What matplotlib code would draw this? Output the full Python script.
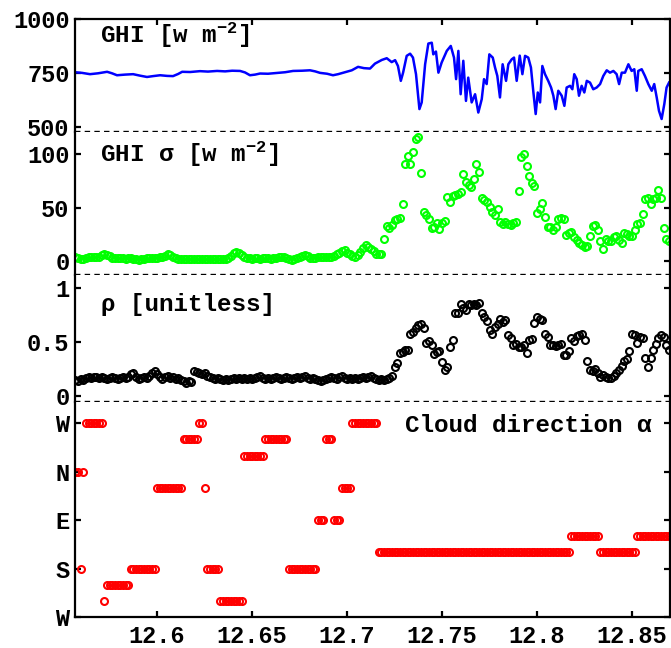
import matplotlib
matplotlib.use('Agg')
import matplotlib.pyplot as plt
import numpy as np

# ---------------- data ----------------
# GHI line (time [h], W m^-2)
ghi_t = [12.5568, 12.5605, 12.5647, 12.5689, 12.5737, 12.5763, 12.5789, 12.5832, 12.5874, 12.5911,
         12.5947, 12.5979, 12.6016, 12.6053, 12.6084, 12.6111, 12.6132, 12.6174, 12.6226, 12.6268,
         12.6316, 12.6358, 12.6395, 12.6437, 12.6463, 12.6489, 12.6516, 12.6542, 12.6584, 12.6632,
         12.6674, 12.6716, 12.6763, 12.6805, 12.6832, 12.6858, 12.6895, 12.6926, 12.6953, 12.6998,
         12.7025, 12.7058, 12.7089, 12.7121, 12.7147, 12.7183, 12.7209, 12.7235, 12.7253, 12.7268,
         12.7283, 12.7295, 12.7314, 12.7332, 12.7347, 12.7363, 12.7381, 12.7393, 12.7411, 12.7428,
         12.7446, 12.7454, 12.7468, 12.7481, 12.7498, 12.7525, 12.7546, 12.7563, 12.7574, 12.7586,
         12.7598, 12.7612, 12.7626, 12.7638, 12.7656, 12.7674, 12.7691, 12.7709, 12.7721, 12.7735,
         12.7749, 12.7767, 12.7779, 12.7791, 12.7805, 12.7819, 12.7837, 12.7849, 12.7867, 12.7879,
         12.7893, 12.7909, 12.7923, 12.7937, 12.7954, 12.7968, 12.7981, 12.7993, 12.8004, 12.8016,
         12.8028, 12.8042, 12.8059, 12.8074, 12.8086, 12.8098, 12.8112, 12.8130, 12.8144, 12.8156,
         12.8174, 12.8186, 12.8196, 12.8209, 12.8221, 12.8235, 12.8249, 12.8262, 12.8279, 12.8296,
         12.8314, 12.8332, 12.8349, 12.8367, 12.8384, 12.8402, 12.8419, 12.8432, 12.8446, 12.8463,
         12.8481, 12.8498, 12.8512, 12.8525, 12.8533, 12.8551, 12.8568, 12.8586, 12.8604, 12.8617,
         12.8630, 12.8642, 12.8656, 12.8670, 12.8682, 12.8695]
ghi_v = [753, 750, 744, 748, 755, 748, 739, 742, 744, 737,
         731, 735, 739, 736, 735, 745, 755, 754, 758, 756,
         759, 757, 760, 759, 752, 739, 742, 747, 746, 750,
         753, 759, 760, 762, 757, 750, 746, 739, 744, 755,
         762, 778, 772, 770, 793, 810, 818, 800, 809, 782,
         713, 751, 829, 839, 821, 744, 582, 613, 790, 886,
         890, 836, 849, 751, 798, 852, 875, 821, 721, 852,
         651, 806, 620, 728, 613, 651, 566, 628, 721, 698,
         836, 821, 775, 736, 636, 790, 713, 790, 813, 821,
         713, 830, 744, 829, 821, 775, 659, 559, 659, 613,
         782, 744, 713, 682, 644, 582, 667, 644, 597, 682,
         690, 674, 744, 721, 644, 690, 659, 713, 705, 674,
         682, 698, 736, 762, 751, 759, 744, 698, 751, 751,
         790, 759, 767, 667, 759, 767, 736, 698, 667, 698,
         636, 574, 536, 605, 682, 705]

# sampling of the marker series: one value every 5 s
T0 = 12.557
DT = 5.0 / 3600.0

ghi_sigma = [3.5, 3, 2, 1.5, 2.5, 3.4, 3.4, 3.5, 3.4, 4,
             5.5, 6.2, 5.5, 4.5, 3, 2.5, 2.5, 2.6, 2.5, 2.3,
             2.5, 2.5, 2, 1.5, 1.2, 1.5, 2, 2.5, 2.5, 2.5,
             2.8, 3.2, 3.4, 4, 5, 6.2, 5.5, 4, 2.5, 2,
             2, 1.8, 1.8, 2, 1.6, 1.8, 2, 1.7, 1.5, 1.8,
             2, 2.2, 1.8, 1.6, 1.5, 1.8, 2, 2.2, 3, 5,
             7.5, 8.7, 8, 5.5, 4, 3, 2.5, 2.4, 2.6, 2.5,
             2.3, 2.5, 2.6, 2.5, 2.4, 2.8, 3.2, 3.6, 4, 3.5,
             2.5, 1.6, 1.2, 1.8, 3, 4, 5, 5.6, 4.5, 3,
             2.5, 3.2, 3.6, 4, 4, 4,
             4, 4, 5, 6.5, 8, 9, 10, 8, 6.5, 4.5,
             3.4, 6, 8.7, 12, 15, 13, 11, 9, 7, 6.5,
             6.5, 21, 32.7, 31, 34, 38, 39, 40, 53, 91,
             98, 91, 101.6, 113.7, 115.6, 82, 46, 43, 39, 30.5,
             32, 35.8, 29.6, 35.8, 37.4, 60, 55.4, 60.7, 62, 63,
             64.8, 81, 74, 71, 68.9, 76.4, 91, 83.5, 58.6, 57,
             55.4, 50.8, 46, 43, 48.6, 36.7, 34.6, 36.7, 35, 33.6,
             35.2, 36.7, 65.7, 97.5, 99.7, 88.8, 79.7, 73.2, 70, 45,
             49, 54, 41.4, 32, 31.5, 29, 31.5, 39, 40, 39,
             24.3, 25.9, 27.4, 22.1, 20, 17.1, 15, 12.8, 14.3, 23.4,
             33, 33.6, 29, 18.7, 11, 20.3, 18.7, 18.7, 22.1, 23.4,
             20, 17.1, 25.9, 24.9, 23.4, 23.4, 29, 34.3, 35.2, 44,
             57.7, 59.2, 53.3, 57.7, 59.2, 66.4, 58.6, 31, 20.3, 19]

rho = [0.15, 0.14, 0.16, 0.15, 0.17, 0.18, 0.17, 0.18, 0.18, 0.17,
       0.18, 0.17, 0.16, 0.17, 0.18, 0.17, 0.16, 0.17, 0.18, 0.17,
       0.18, 0.20, 0.21, 0.18, 0.16, 0.17, 0.18, 0.17, 0.19, 0.21,
       0.23, 0.20, 0.18, 0.16, 0.18, 0.19, 0.17, 0.18, 0.16, 0.17,
       0.15, 0.14, 0.12, 0.14, 0.13, 0.23, 0.22, 0.21, 0.20, 0.21,
       0.19, 0.18, 0.17, 0.16, 0.17, 0.16, 0.15, 0.16, 0.15, 0.16,
       0.17, 0.16, 0.17, 0.16, 0.17, 0.16, 0.17, 0.16, 0.17, 0.18,
       0.19, 0.17, 0.16, 0.17, 0.16, 0.17, 0.18, 0.17, 0.16, 0.17,
       0.18, 0.17, 0.16, 0.17, 0.18, 0.17, 0.18, 0.19, 0.17, 0.16,
       0.17, 0.16, 0.15, 0.14, 0.15, 0.16, 0.17, 0.18, 0.17, 0.16,
       0.18, 0.19, 0.17, 0.16, 0.17, 0.16, 0.17, 0.16, 0.17, 0.18,
       0.17, 0.18, 0.19, 0.17, 0.16, 0.15, 0.16, 0.15, 0.16, 0.17,
       0.185, 0.27, 0.31, 0.40, 0.41, 0.426, 0.426, 0.574, 0.595, 0.627,
       0.657, 0.664, 0.627, 0.494, 0.512, 0.472, 0.389, 0.41, 0.417, 0.318,
       0.24, 0.27, 0.456, 0.518, 0.77, 0.77, 0.85, 0.82, 0.80, 0.858,
       0.849, 0.858, 0.849, 0.867, 0.77, 0.734, 0.694, 0.611, 0.58, 0.642,
       0.667, 0.71, 0.688, 0.704, 0.565, 0.534, 0.472, 0.481, 0.451, 0.451,
       0.472, 0.401, 0.518, 0.525, 0.673, 0.734, 0.719, 0.704, 0.58, 0.549,
       0.472, 0.472, 0.463, 0.472, 0.481, 0.38, 0.38, 0.42, 0.534, 0.512,
       0.556, 0.565, 0.58, 0.518, 0.327, 0.24, 0.234, 0.253, 0.21, 0.179,
       0.194, 0.173, 0.164, 0.164, 0.185, 0.21, 0.24, 0.278, 0.327, 0.34,
       0.42, 0.574, 0.565, 0.494, 0.549, 0.534, 0.349, 0.27, 0.349, 0.426,
       0.481, 0.534, 0.565, 0.549, 0.472, 0.426]

# cloud direction, degrees on the W-S-E-N-W scale (0 = W, 90 = S, 180 = E, 270 = N, 360 = W)
cloud_dir = [270, 270, 90, 270, 360, 360, 360, 360, 360, 360,
             360, 30, 60, 60, 60, 60, 60, 60, 60, 60,
             60, 90, 90, 90, 90, 90, 90, 90, 90, 90,
             90, 240, 240, 240, 240, 240, 240, 240, 240, 240,
             240, 330, 330, 330, 330, 330, 330, 360, 360, 240,
             90, 90, 90, 90, 90, 30, 30, 30, 30, 30,
             30, 30, 30, 30, 300, 300, 300, 300, 300, 300,
             300, 300, 330, 330, 330, 330, 330, 330, 330, 330,
             330, 90, 90, 90, 90, 90, 90, 90, 90, 90,
             90, 90, 180, 180, 180, 330, 330, 330, 180, 180,
             180, 240, 240, 240, 240, 360, 360, 360, 360, 360,
             360, 360, 360, 360, 360, 120, 120, 120, 120, 120,
             120, 120, 120, 120, 120, 120, 120, 120, 120, 120,
             120, 120, 120, 120, 120, 120, 120, 120, 120, 120,
             120, 120, 120, 120, 120, 120, 120, 120, 120, 120,
             120, 120, 120, 120, 120, 120, 120, 120, 120, 120,
             120, 120, 120, 120, 120, 120, 120, 120, 120, 120,
             120, 120, 120, 120, 120, 120, 120, 120, 120, 120,
             120, 120, 120, 120, 120, 120, 120, 120, 150, 150,
             150, 150, 150, 150, 150, 150, 150, 150, 150, 120,
             120, 120, 120, 120, 120, 120, 120, 120, 120, 120,
             120, 120, 120, 150, 150, 150, 150, 150, 150, 150,
             150, 150, 150, 150, 150, 150]

x_ticks = [12.6, 12.65, 12.7, 12.75, 12.8, 12.85]
x_ticklabels = ['12.6', '12.65', '12.7', '12.75', '12.8', '12.85']
ghi_ticks = [500, 750, 1000]
sigma_ticks = [0, 50, 100]
rho_ticks = [0, 0.5, 1]
rho_ticklabels = ['0', '0.5', '1']
dir_ticks = [0, 90, 180, 270, 360]
dir_ticklabels = ['W', 'S', 'E', 'N', 'W']

# ---------------- figure ----------------
plt.rcParams['font.family'] = ['Liberation Mono', 'DejaVu Sans']
plt.rcParams['font.weight'] = 'bold'
plt.rcParams['mathtext.default'] = 'regular'

t = T0 + DT * np.arange(len(rho))

fig = plt.figure(figsize=(6.71, 6.48), dpi=100)
FW, FH = 671.0, 648.0
left = 75 / FW
width = 595 / FW
edges = [19, 131.5, 275, 401.7, 617]
axes = []
for k in range(4):
    ax = fig.add_axes([left, 1 - edges[k + 1] / FH, width, (edges[k + 1] - edges[k]) / FH])
    axes.append(ax)
ax1, ax2, ax3, ax4 = axes

mk = dict(marker='o', mfc='none', ms=5.0, mew=1.5, ls='none')
ax1.plot(ghi_t, ghi_v, color=(0, 0, 1), lw=1.8)
ax2.plot(t, ghi_sigma, mec=(0, 1, 0), **mk)
ax3.plot(t, rho, mec='k', **mk)
ax4.plot(t, cloud_dir, mec=(1, 0, 0), **mk)

ax1.set_ylim(478, 1000)
ax2.set_ylim(-13, 121)
ax3.set_ylim(-0.053, 1.123)
ax4.set_ylim(0, 400)

ax1.set_yticks(ghi_ticks)
ax1.set_yticklabels([str(v) for v in ghi_ticks])
ax2.set_yticks(sigma_ticks)
ax2.set_yticklabels([str(v) for v in sigma_ticks])
ax3.set_yticks(rho_ticks)
ax3.set_yticklabels(rho_ticklabels)
ax4.set_yticks(dir_ticks)
ax4.set_yticklabels(dir_ticklabels)

for k, ax in enumerate(axes):
    ax.set_xlim(12.5568, 12.8700)
    ax.set_xticks(x_ticks)
    ax.set_xticklabels(x_ticklabels)
    for s in ax.spines.values():
        s.set_linewidth(1.6)
    ax.tick_params(axis='both', direction='in', length=4.5, width=1.6,
                   labelsize=17, pad=4, right=True, top=(k == 0), bottom=(k == 3),
                   labelbottom=(k == 3), labeltop=False)
    if k > 0:
        ax.spines['top'].set_visible(False)
    if k < 3:
        ax.spines['bottom'].set_visible(False)
        ax.axhline(ax.get_ylim()[0], color='k', lw=1.7, ls=(0, (2.3, 1.8)),
                   clip_on=False, zorder=5)
    for lab in ax.get_yticklabels() + ax.get_xticklabels():
        lab.set_fontweight('bold')
ax4.tick_params(axis='x', pad=6)

ax1.text((100 - 75) / 595, 0.784, r'GHI [w m$^{-2}$]', transform=ax1.transAxes,
         fontsize=17.5, fontweight='bold', va='baseline', ha='left')
ax2.text((100 - 75) / 595, 0.79, r'GHI σ [w m$^{-2}$]', transform=ax2.transAxes,
         fontsize=17.5, fontweight='bold', va='baseline', ha='left')
ax3.text((101 - 75) / 595, 0.718, 'ρ [unitless]', transform=ax3.transAxes,
         fontsize=17.5, fontweight='bold', va='baseline', ha='left')
ax4.text((405 - 75) / 595, 0.861, 'Cloud direction α', transform=ax4.transAxes,
         fontsize=17.5, fontweight='bold', va='baseline', ha='left')

fig.savefig('out.png', dpi=100)
